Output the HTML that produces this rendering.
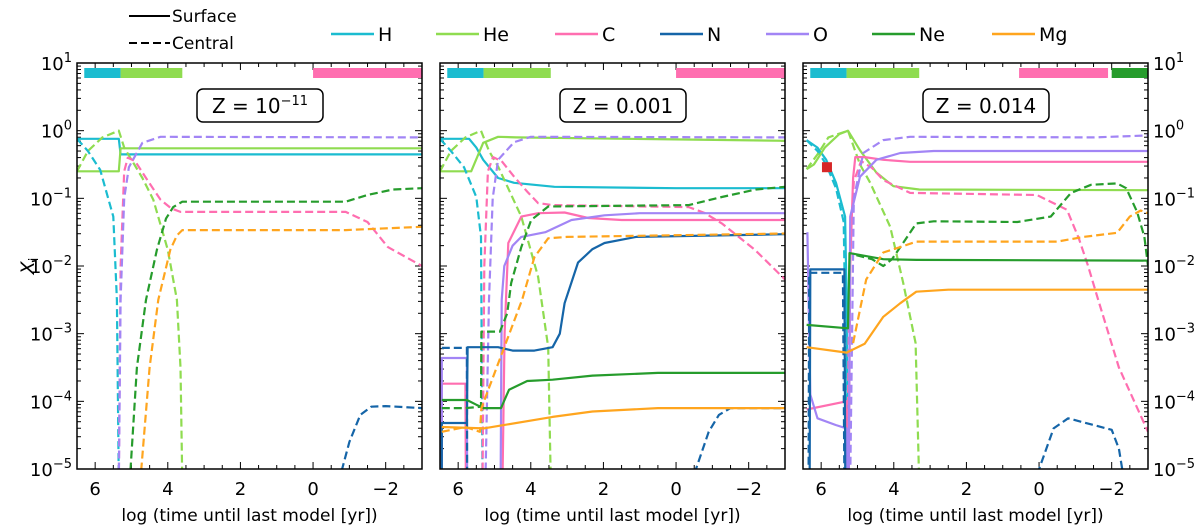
<!DOCTYPE html>
<html><head><meta charset="utf-8">
<style>
html,body{margin:0;padding:0;background:#fff;}
svg{display:block;font-family:"DejaVu Sans","Liberation Sans",sans-serif;}
</style></head>
<body>
<svg id="chart" width="1200" height="528" viewBox="0 0 1200 528" xmlns="http://www.w3.org/2000/svg">
<defs>
<clipPath id="clip0"><rect x="77" y="63" width="345" height="406"/></clipPath>
<clipPath id="clip1"><rect x="440" y="63" width="345" height="406"/></clipPath>
<clipPath id="clip2"><rect x="803" y="63" width="345" height="406"/></clipPath>
</defs>
<g id="legend">
 <g><line x1="129" y1="16" x2="170" y2="16" stroke="#000" stroke-width="2"/><text x="172" y="22" font-size="17">Surface</text></g>
 <g><line x1="129" y1="43" x2="170" y2="43" stroke="#000" stroke-width="2" stroke-dasharray="8,4"/><text x="172" y="49" font-size="17">Central</text></g>
</g>
<g id="elegend"></g>
<g id="plots"></g>
<text transform="translate(34,266) rotate(-90)" font-size="19" text-anchor="middle" font-style="italic">X<tspan font-size="13" dy="4" font-style="normal">i</tspan></text>
</svg>
<script>
// ---- data: [log time, log10 abundance] ----
const z1_H_s=[[6.5,-0.12],[5.35,-0.12],[5.3,-0.35],[-3,-0.35]];
const z1_He_s=[[6.5,-0.6],[5.35,-0.6],[5.3,-0.26],[-3,-0.26]];
const z1_H_c=[[6.5,-0.12],[6.2,-0.3],[5.86,-0.58],[5.5,-1.27],[5.4,-2.5],[5.35,-5.2]];
const z1_He_c=[[6.5,-0.6],[6.2,-0.3],[5.8,-0.1],[5.35,0],[5.2,-0.25],[5.0,-0.43],[4.7,-0.7],[4.4,-1.02],[4.0,-1.76],[3.75,-2.5],[3.65,-3.5],[3.6,-5.2]];
const z1_C_c=[[5.35,-5.2],[5.3,-2],[5.2,-0.6],[5.1,-0.4],[4.9,-0.45],[4.6,-0.7],[4.2,-1.02],[3.9,-1.15],[3.65,-1.2],[-0.9,-1.2],[-1.5,-1.35],[-2.06,-1.72],[-3,-2.0]];
const z1_O_c=[[5.35,-5.2],[5.3,-2.5],[5.2,-1.0],[5.07,-0.54],[4.7,-0.18],[4.2,-0.09],[-3,-0.1]];
const z1_Ne_c=[[5.05,-5.2],[4.85,-3.5],[4.6,-2.5],[4.3,-1.76],[4.05,-1.3],[3.85,-1.13],[3.6,-1.05],[-0.9,-1.05],[-1.5,-0.95],[-2.2,-0.87],[-3,-0.85]];
const z1_Mg_c=[[4.76,-5.2],[4.5,-3.5],[4.26,-2.5],[3.93,-1.76],[3.75,-1.55],[3.6,-1.47],[-0.9,-1.47],[-3,-1.42]];
const z1_N_c=[[-0.7,-5.2],[-1.0,-4.6],[-1.3,-4.2],[-1.6,-4.08],[-2.0,-4.07],[-3,-4.1]];

const z2_H_s=[[6.5,-0.12],[5.7,-0.12],[5.5,-0.25],[5.31,-0.43],[4.9,-0.7],[4.46,-0.77],[3.35,-0.83],[0,-0.85],[-3,-0.85]];
const z2_He_s=[[6.5,-0.6],[5.64,-0.6],[5.31,-0.18],[4.9,-0.09],[4.4,-0.1],[-3,-0.15]];
const z2_H_c=[[6.5,-0.12],[6.2,-0.3],[5.84,-0.54],[5.5,-0.98],[5.37,-1.57],[5.33,-5.2]];
const z2_He_c=[[6.5,-0.6],[6.2,-0.3],[5.8,-0.1],[5.37,0],[5.15,-0.3],[4.9,-0.53],[4.26,-1.27],[3.8,-2.16],[3.52,-3.2],[3.45,-5.2]];
const z2_C_s=[[6.45,-6],[6.45,-3.74],[5.8,-3.74],[5.78,-6],[4.8,-6],[4.72,-3],[4.62,-1.66],[4.26,-1.27],[3.8,-1.22],[3.07,-1.21],[2.42,-1.29],[1.5,-1.32],[-3,-1.32]];
const z2_C_c=[[5.33,-5.2],[5.28,-2],[5.18,-0.6],[5.04,-0.39],[4.8,-0.45],[4.46,-0.68],[4.1,-0.9],[3.8,-1.07],[3.4,-1.1],[-0.35,-1.13],[-0.8,-1.22],[-1.26,-1.37],[-2.17,-1.76],[-3,-2.2]];
const z2_O_s=[[6.45,-6],[6.45,-3.36],[5.76,-3.36],[5.75,-6],[4.84,-6],[4.8,-2.5],[4.73,-2.0],[4.5,-1.7],[4.26,-1.57],[3.6,-1.5],[2.88,-1.32],[1.97,-1.25],[1,-1.22],[-3,-1.22]];
const z2_O_c=[[5.25,-5.2],[5.15,-2.5],[5.05,-1.0],[4.9,-0.43],[4.46,-0.17],[4.0,-0.09],[-3,-0.1]];
const z2_N_s=[[6.45,-6],[6.45,-4.32],[5.76,-4.32],[5.74,-3.2],[4.9,-3.2],[4.5,-3.25],[3.9,-3.25],[3.4,-3.2],[3.2,-3.0],[3.07,-2.55],[2.7,-1.95],[2.3,-1.75],[1.97,-1.66],[1.1,-1.57],[-3,-1.53]];
const z2_N_c=[[6.45,-3.21],[5.76,-3.21],[5.75,-6],[-0.5,-6],[-0.55,-5],[-0.9,-4.45],[-1.18,-4.2],[-1.5,-4.1],[-3,-4.1]];
const z2_Ne_s=[[6.45,-3.98],[5.76,-3.98],[5.5,-4.05],[5.3,-4.1],[4.82,-4.1],[4.6,-3.83],[4.1,-3.7],[3.4,-3.68],[2.3,-3.62],[0.5,-3.58],[-3,-3.58]];
const z2_Ne_c=[[6.45,-4.1],[5.8,-4.1],[5.37,-4.08],[5.36,-2.97],[4.85,-2.97],[4.65,-2.7],[4.54,-2.25],[4.26,-1.72],[3.99,-1.32],[3.52,-1.12],[-0.35,-1.1],[-1.26,-0.98],[-2.2,-0.87],[-3,-0.83]];
const z2_Mg_s=[[6.45,-4.38],[5.3,-4.4],[4.85,-4.36],[3.4,-4.23],[2.3,-4.15],[0.5,-4.1],[-3,-4.1]];
const z2_Mg_c=[[6.45,-4.45],[5.8,-4.38],[5.4,-4.45],[5.36,-4.1],[4.24,-2.5],[3.9,-1.87],[3.52,-1.59],[3.0,-1.57],[-3,-1.52]];

const z3_H_s=[[6.4,-0.14],[6.1,-0.25],[5.86,-0.43],[5.59,-0.77],[5.34,-1.27],[5.3,-2.5],[5.25,-6]];
const z3_H_c=[[6.4,-0.14],[6.1,-0.3],[5.86,-0.5],[5.59,-0.85],[5.38,-1.35],[5.33,-3],[5.28,-6]];
const z3_He_s=[[6.4,-0.57],[6.2,-0.5],[5.9,-0.25],[5.5,-0.05],[5.26,0],[4.93,-0.29],[4.48,-0.62],[4.01,-0.82],[3.3,-0.87],[-3,-0.88]];
const z3_He_c=[[6.4,-0.57],[6.1,-0.35],[5.8,-0.1],[5.26,0],[4.93,-0.5],[4.65,-0.77],[4.1,-1.42],[3.74,-2.25],[3.4,-3.14],[3.3,-5.2]];
const z3_C_s=[[6.4,-4.12],[5.3,-4.0],[5.25,-6],[5.2,-2],[5.12,-0.7],[5.06,-0.39],[4.8,-0.39],[4.29,-0.43],[3.55,-0.46],[-3,-0.46]];
const z3_C_c=[[5.3,-6],[5.22,-2],[5.1,-0.75],[4.9,-0.45],[4.6,-0.55],[4.29,-0.73],[3.55,-0.92],[0.06,-0.95],[-0.77,-1.17],[-1.1,-1.6],[-1.35,-2.0],[-1.63,-2.5],[-2.2,-3.5],[-3,-4.45]];
const z3_O_s=[[6.38,-1.5],[6.3,-3.9],[6.1,-4.25],[5.6,-4.35],[5.3,-4.4],[5.25,-6],[5.2,-1.27],[4.93,-0.68],[4.48,-0.43],[3.82,-0.33],[2.9,-0.3],[-3,-0.3]];
const z3_O_c=[[5.22,-6],[5.1,-1.0],[4.84,-0.33],[4.29,-0.14],[3.55,-0.09],[-1.5,-0.1],[-2.5,-0.08],[-3,-0.07]];
const z3_N_s=[[6.32,-6],[6.3,-2.05],[5.36,-2.05],[5.33,-6]];
const z3_N_c=[[6.35,-6],[6.33,-2.1],[5.4,-2.1],[5.35,-6],[0.05,-6],[0,-5],[-0.4,-4.4],[-0.8,-4.25],[-1.5,-4.35],[-2.0,-4.42],[-2.2,-4.7],[-2.35,-5.2]];
const z3_Ne_s=[[6.4,-2.87],[5.26,-2.92],[5.22,-1.81],[4.29,-1.9],[3.38,-1.91],[-3,-1.92]];
const z3_Ne_c=[[5.03,-1.84],[4.6,-1.9],[4.29,-2.0],[4.05,-1.9],[3.82,-1.72],[3.38,-1.37],[2.9,-1.34],[0.6,-1.35],[-0.32,-1.27],[-0.88,-0.92],[-1.43,-0.8],[-2.15,-0.78],[-2.4,-0.85],[-2.7,-1.2],[-2.9,-1.57],[-3,-2.0]];
const z3_Mg_s=[[6.4,-3.2],[5.3,-3.28],[4.8,-3.15],[4.29,-2.75],[3.82,-2.55],[3.38,-2.38],[2.5,-2.35],[-3,-2.35]];
const z3_Mg_c=[[5.12,-3.14],[4.76,-2.2],[4.29,-1.8],[3.82,-1.72],[3.38,-1.64],[-0.5,-1.64],[-1.23,-1.57],[-2.15,-1.51],[-2.5,-1.27],[-2.8,-1.18],[-3,-1.22]];
const z3_marker=[5.84,-0.54];

// top phase bars: [start, end] in log time
const z1_bars=[[6.3,5.3,"H"],[5.3,3.6,"He"],[0.0,-3.0,"C"]];
const z2_bars=[[6.3,5.3,"H"],[5.3,3.45,"He"],[0.0,-3.0,"C"]];
const z3_bars=[[6.3,5.3,"H"],[5.3,3.3,"He"],[0.55,-1.9,"C"],[-2.0,-3.0,"Ne"]];

const panelTitles=["Z = 10","Z = 0.001","Z = 0.014"];
const yTickExp=[1,0,-1,-2,-3,-4,-5];
const xTickVals=[6,4,2,0,-2];
const elements=["H","He","C","N","O","Ne","Mg"];
const colors={H:"#1bbcd0",He:"#8fdc50",C:"#ff6eb0",N:"#1565a8",O:"#a285f5",Ne:"#269c2c",Mg:"#ffa51e"};

const series=[
 [["H","s",z1_H_s],["He","s",z1_He_s],["H","c",z1_H_c],["He","c",z1_He_c],["C","c",z1_C_c],["O","c",z1_O_c],["Ne","c",z1_Ne_c],["Mg","c",z1_Mg_c],["N","c",z1_N_c]],
 [["H","s",z2_H_s],["He","s",z2_He_s],["H","c",z2_H_c],["He","c",z2_He_c],["C","s",z2_C_s],["C","c",z2_C_c],["O","s",z2_O_s],["O","c",z2_O_c],["N","s",z2_N_s],["N","c",z2_N_c],["Ne","s",z2_Ne_s],["Ne","c",z2_Ne_c],["Mg","s",z2_Mg_s],["Mg","c",z2_Mg_c]],
 [["H","s",z3_H_s],["H","c",z3_H_c],["He","s",z3_He_s],["He","c",z3_He_c],["C","s",z3_C_s],["C","c",z3_C_c],["O","s",z3_O_s],["O","c",z3_O_c],["N","s",z3_N_s],["N","c",z3_N_c],["Ne","s",z3_Ne_s],["Ne","c",z3_Ne_c],["Mg","s",z3_Mg_s],["Mg","c",z3_Mg_c]]
];
const bars=[z1_bars,z2_bars,z3_bars];

const NS="http://www.w3.org/2000/svg";
const lefts=[77,440,803], W=345, TOP=63, BOT=469;
const XMAX=6.5, XMIN=-3.0, YMAX=1, YMIN=-5;
function sx(p,x){return lefts[p]+(XMAX-x)/(XMAX-XMIN)*W;}
function sy(v){return TOP+(YMAX-v)/(YMAX-YMIN)*(BOT-TOP);}
function mk(tag,attrs,parent){const e=document.createElementNS(NS,tag);for(const k in attrs)e.setAttribute(k,attrs[k]);parent.appendChild(e);return e;}

const plots=document.getElementById("plots");
for(let p=0;p<3;p++){
 const g=mk("g",{},plots);
 
 
 const L=lefts[p];
 const tk=mk("g",{stroke:"#000","stroke-width":"1"},g);
 
 
 for(let e=-5;e<=1;e++){
  const y=sy(e);
  mk("line",{x1:L,y1:y,x2:L+7,y2:y},tk);mk("line",{x1:L+W,y1:y,x2:L+W-7,y2:y},tk);
  if(e<1)for(let m=2;m<=9;m++){const yy=sy(e+Math.log10(m));mk("line",{x1:L,y1:yy,x2:L+4,y2:yy},tk);mk("line",{x1:L+W,y1:yy,x2:L+W-4,y2:yy},tk);}
 }
 for(let x=6.5;x>=-3;x-=0.5){
  const xx=sx(p,x);const major=Math.abs(x-Math.round(x))<1e-6&&Math.round(x)%2===0;
  const len=major?7:4;
  mk("line",{x1:xx,y1:BOT,x2:xx,y2:BOT-len},tk);mk("line",{x1:xx,y1:TOP,x2:xx,y2:TOP+len},tk);
 }
 bars[p].forEach(b=>{
  const r=mk("rect",{x:sx(p,b[0]),y:68,width:sx(p,b[1])-sx(p,b[0]),height:10,fill:colors[b[2]]},g);
  
  
 });
 const sg=mk("g",{"clip-path":"url(#clip"+p+")"},g);
 series[p].forEach(s=>{
  const d=s[2].map((pt,i)=>(i?"L":"M")+sx(p,pt[0]).toFixed(1)+","+sy(pt[1]).toFixed(1)).join("");
  const path=mk("path",{d:d,fill:"none",stroke:colors[s[0]],"stroke-width":"2.2","stroke-linejoin":"round"},sg);
  if(s[1]==="c")path.setAttribute("stroke-dasharray","8,4");
  
  
 });
 if(p===2){
  const m=mk("rect",{x:sx(p,z3_marker[0])-5,y:sy(z3_marker[1])-5,width:10,height:10,fill:"#d62728"},g);
  
  
 }
 const fr=mk("rect",{x:L,y:TOP,width:W,height:BOT-TOP,fill:"none",stroke:"#000","stroke-width":"1.5"},g);
 
 
 const cx=L+183;
 const tb=mk("rect",{x:cx-63,y:89,width:126,height:33,rx:6,fill:"#fff",stroke:"#000","stroke-width":"1.5"},g);
 
 
 const tt=mk("text",{x:cx,y:113,"font-size":"20","text-anchor":"middle"},g);
 
 
 tt.textContent=panelTitles[p];
 if(p===0){const sp=mk("tspan",{"font-size":"13",dy:"-8"},tt);sp.textContent="−11";}
 xTickVals.forEach(v=>{
  const t=mk("text",{x:sx(p,v),y:495,"font-size":"18","text-anchor":"middle"},g);
  
  
  t.textContent=v<0?"−"+Math.abs(v):String(v);
 });
 const xl=mk("text",{x:L+W/2,y:521,"font-size":"17","text-anchor":"middle"},g);
 
 
 xl.textContent="log (time until last model [yr])";
 if(p===0||p===2){
  yTickExp.forEach(e=>{
   const right=p===2;
   const t=mk("text",{x:right?L+W+5:L-5,y:sy(e)+7,"font-size":"18","text-anchor":right?"start":"end"},g);
   
   
   t.textContent="10";
   const sp=mk("tspan",{"font-size":"13",dy:"-8"},t);
   sp.textContent=e<0?"−"+Math.abs(e):String(e);
  });
 }
}
const el=document.getElementById("elegend");
const legX=[331,436,555,660,766,872,992];
elements.forEach((e,i)=>{
 const g=mk("g",{},el);
 
 
 mk("line",{x1:legX[i],y1:34,x2:legX[i]+43,y2:34,stroke:colors[e],"stroke-width":"2.5"},g);
 const t=mk("text",{x:legX[i]+47,y:41,"font-size":"19"},g);
 t.textContent=e;
});
</script>
</body></html>
